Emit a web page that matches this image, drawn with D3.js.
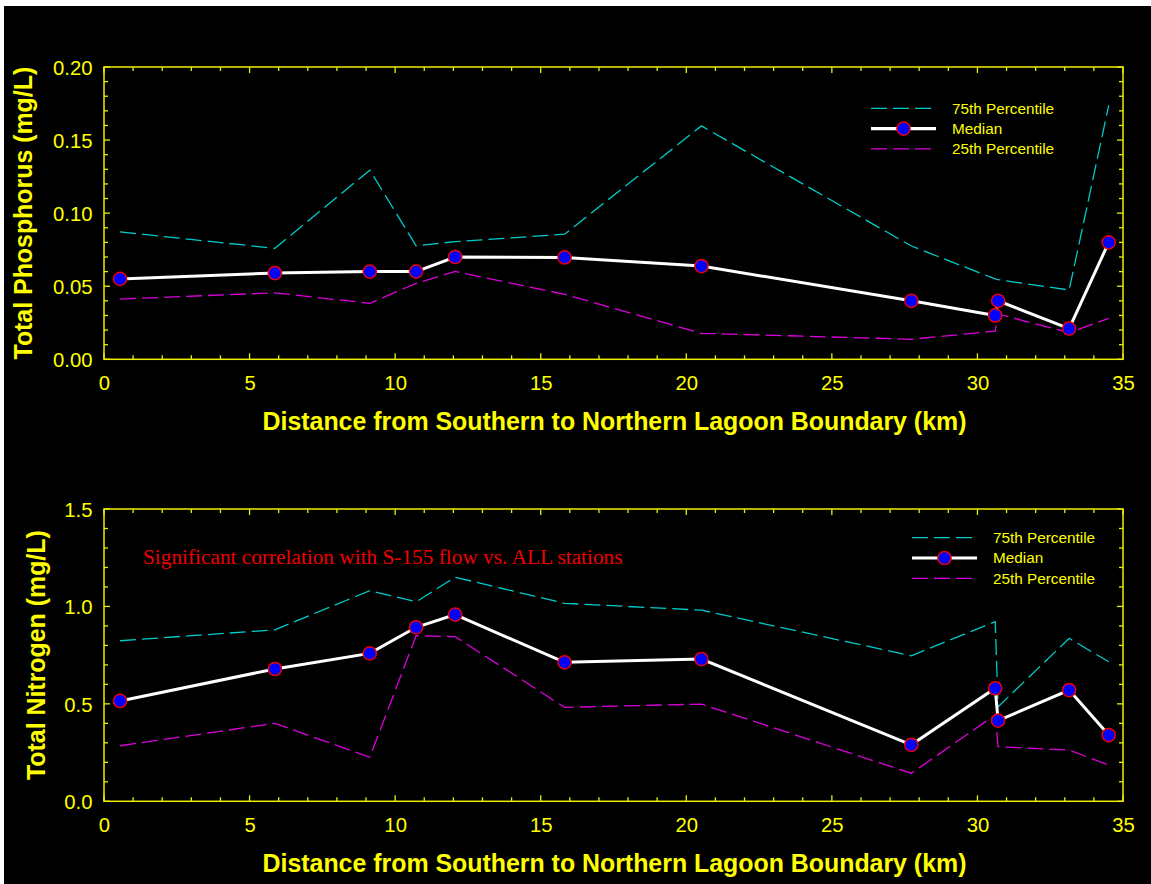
<!DOCTYPE html>
<html>
<head>
<meta charset="utf-8">
<script src="https://cdn.jsdelivr.net/npm/d3@7"></script>
<style>
  html, body { margin: 0; padding: 0; background: #ffffff; }
  svg { display: block; }
</style>
</head>
<body>
<svg id="chart" width="1151" height="884"></svg>
<script>
// ---- Data ----
const distanceKm = [0.55, 5.87, 9.13, 10.72, 12.06, 15.82, 20.52, 27.73, 30.61, 30.71, 33.15, 34.51];

const tpMedian = [0.055, 0.059, 0.060, 0.060, 0.070, 0.0697, 0.0638, 0.040, 0.030, 0.040, 0.021, 0.080];
const tp75 = [0.0872, 0.0759, 0.1294, 0.0777, 0.0805, 0.0856, 0.1597, 0.0775, 0.055, 0.0545, 0.0474, 0.1738];
const tp25 = [0.0412, 0.0455, 0.0383, 0.052, 0.0601, 0.0445, 0.0178, 0.0137, 0.0193, 0.031, 0.0182, 0.028];

const tnMedian = [0.515, 0.679, 0.759, 0.893, 0.958, 0.713, 0.730, 0.290, 0.580, 0.414, 0.571, 0.340];
const tn75 = [0.824, 0.880, 1.081, 1.024, 1.15, 1.016, 0.981, 0.747, 0.922, 0.485, 0.836, 0.716];
const tn25 = [0.285, 0.400, 0.226, 0.850, 0.845, 0.482, 0.499, 0.144, 0.443, 0.280, 0.263, 0.186];

const xTicks = [0, 5, 10, 15, 20, 25, 30, 35];
const tpTicks = [0.00, 0.05, 0.10, 0.15, 0.20];
const tnTicks = [0.0, 0.5, 1.0, 1.5];

const legendLabels = ["75th Percentile", "Median", "25th Percentile"];
const xTitle = "Distance from Southern to Northern Lagoon Boundary (km)";
const annotation = "Significant correlation with S-155 flow vs. ALL stations";

// ---- Styles ----
const YELLOW = "#ffff00";
const AXIS = "#eeee00";
const CYAN = "#00cccc";
const MAGENTA = "#dd00dd";
const SANS = "'Liberation Sans', Arial, Helvetica, sans-serif";
const SERIF = "'Liberation Serif', 'Times New Roman', serif";

const svg = d3.select("#chart");
svg.append("rect").attr("x", 4).attr("y", 6).attr("width", 1151 - 4).attr("height", 884 - 6).attr("fill", "#000");

function panel(opts) {
  const { left, right, top, bottom, yMax, yMinorStep, yTicks, yFmt, yTitle, yTitleX,
          median, p75, p25, legendX, legendY, note } = opts;
  const x = d3.scaleLinear().domain([0, 35]).range([left, right]);
  const y = d3.scaleLinear().domain([0, yMax]).range([bottom, top]);
  const g = svg.append("g");

  // minor ticks
  const xMinor = d3.range(0, 36, 1);
  const yMinor = d3.range(0, Math.round(yMax / yMinorStep) + 1).map(i => i * yMinorStep);
  const tickG = g.append("g").attr("stroke", AXIS).attr("stroke-width", 1.3);
  xMinor.forEach(v => {
    const len = (v % 5 === 0) ? 6 : 4;
    tickG.append("line").attr("x1", x(v)).attr("x2", x(v)).attr("y1", bottom).attr("y2", bottom - len);
    tickG.append("line").attr("x1", x(v)).attr("x2", x(v)).attr("y1", top).attr("y2", top + len);
  });
  yMinor.forEach((v, i) => {
    const major = yTicks.some(t => Math.abs(t - v) < 1e-9);
    const len = major ? 6 : 4;
    tickG.append("line").attr("x1", left).attr("x2", left + len).attr("y1", y(v)).attr("y2", y(v));
    tickG.append("line").attr("x1", right).attr("x2", right - len).attr("y1", y(v)).attr("y2", y(v));
  });

  // frame
  g.append("rect").attr("x", left).attr("y", top).attr("width", right - left).attr("height", bottom - top)
    .attr("fill", "none").attr("stroke", AXIS).attr("stroke-width", 1.5);

  // axes labels via d3 axes (ticks hidden, labels kept)
  const xAxis = d3.axisBottom(x).tickValues(xTicks).tickFormat(d3.format("d")).tickSize(0).tickPadding(0);
  const xa = g.append("g").attr("transform", `translate(0,${bottom})`).call(xAxis);
  xa.select(".domain").remove();
  xa.selectAll("text").attr("fill", YELLOW).attr("font-family", SANS).attr("font-size", 20.3)
    .attr("dy", null).attr("y", 31);

  const yAxis = d3.axisLeft(y).tickValues(yTicks).tickFormat(d3.format(yFmt)).tickSize(0).tickPadding(0);
  const ya = g.append("g").attr("transform", `translate(${left},0)`).call(yAxis);
  ya.select(".domain").remove();
  ya.selectAll("text").attr("fill", YELLOW).attr("font-family", SANS).attr("font-size", 20.3)
    .attr("x", -11.5).attr("dy", "0.36em");

  // titles
  g.append("text").attr("x", (left + right) / 2 + 1).attr("y", bottom + 71).attr("text-anchor", "middle")
    .attr("fill", YELLOW).attr("font-family", SANS).attr("font-weight", "bold").attr("font-size", 24.9)
    .text(xTitle);
  g.append("text").attr("transform", `translate(${yTitleX},${(top + bottom) / 2}) rotate(-90)`)
    .attr("text-anchor", "middle").attr("fill", YELLOW).attr("font-family", SANS)
    .attr("font-weight", "bold").attr("font-size", 24.9).text(yTitle);

  if (note) {
    g.append("text").attr("x", note.x).attr("y", note.y).attr("fill", "#ee0000")
      .attr("font-family", SERIF).attr("font-size", 21.3).text(annotation);
  }

  const line = d3.line().x(d => x(d[0])).y(d => y(d[1]));
  const toPts = arr => distanceKm.map((d, i) => [d, arr[i]]);

  g.append("path").datum(toPts(p75)).attr("d", line).attr("fill", "none")
    .attr("stroke", CYAN).attr("stroke-width", 1.3).attr("stroke-dasharray", "16,6");
  g.append("path").datum(toPts(p25)).attr("d", line).attr("fill", "none")
    .attr("stroke", MAGENTA).attr("stroke-width", 1.3).attr("stroke-dasharray", "16,6");
  g.append("path").datum(toPts(median)).attr("d", line).attr("fill", "none")
    .attr("stroke", "#ffffff").attr("stroke-width", 3);
  g.selectAll("circle.m").data(toPts(median)).join("circle").attr("class", "m")
    .attr("cx", d => x(d[0])).attr("cy", d => y(d[1])).attr("r", 6.6)
    .attr("fill", "#0000ff").attr("stroke", "#ee0000").attr("stroke-width", 1.5);

  // legend
  const lg = g.append("g");
  const rows = [
    { label: legendLabels[0], color: CYAN, dash: "16,6", w: 1.3, marker: false },
    { label: legendLabels[1], color: "#ffffff", dash: null, w: 3.2, marker: true },
    { label: legendLabels[2], color: MAGENTA, dash: "16,6", w: 1.3, marker: false }
  ];
  rows.forEach((r, i) => {
    const ly = legendY + i * 20.3;
    lg.append("line").attr("x1", legendX).attr("x2", legendX + (r.marker ? 65 : 60)).attr("y1", ly).attr("y2", ly)
      .attr("stroke", r.color).attr("stroke-width", r.w).attr("stroke-dasharray", r.dash);
    if (r.marker) {
      lg.append("circle").attr("cx", legendX + 32.5).attr("cy", ly).attr("r", 6.6)
        .attr("fill", "#0000ff").attr("stroke", "#ee0000").attr("stroke-width", 1.5);
    }
    lg.append("text").attr("x", legendX + 81).attr("y", ly + 5.3).attr("fill", YELLOW)
      .attr("font-family", SANS).attr("font-size", 15.3).text(r.label);
  });
}

panel({
  left: 104, right: 1123, top: 67, bottom: 359.3, yMax: 0.20, yMinorStep: 0.01,
  yTicks: tpTicks, yFmt: ".2f", yTitle: "Total Phosphorus (mg/L)", yTitleX: 31.5,
  median: tpMedian, p75: tp75, p25: tp25, legendX: 871, legendY: 108.3, note: null
});

panel({
  left: 104, right: 1123, top: 509, bottom: 801.3, yMax: 1.5, yMinorStep: 0.1,
  yTicks: tnTicks, yFmt: ".1f", yTitle: "Total Nitrogen (mg/L)", yTitleX: 45,
  median: tnMedian, p75: tn75, p25: tn25, legendX: 912, legendY: 537.7,
  note: { x: 143, y: 564 }
});
</script>
</body>
</html>
